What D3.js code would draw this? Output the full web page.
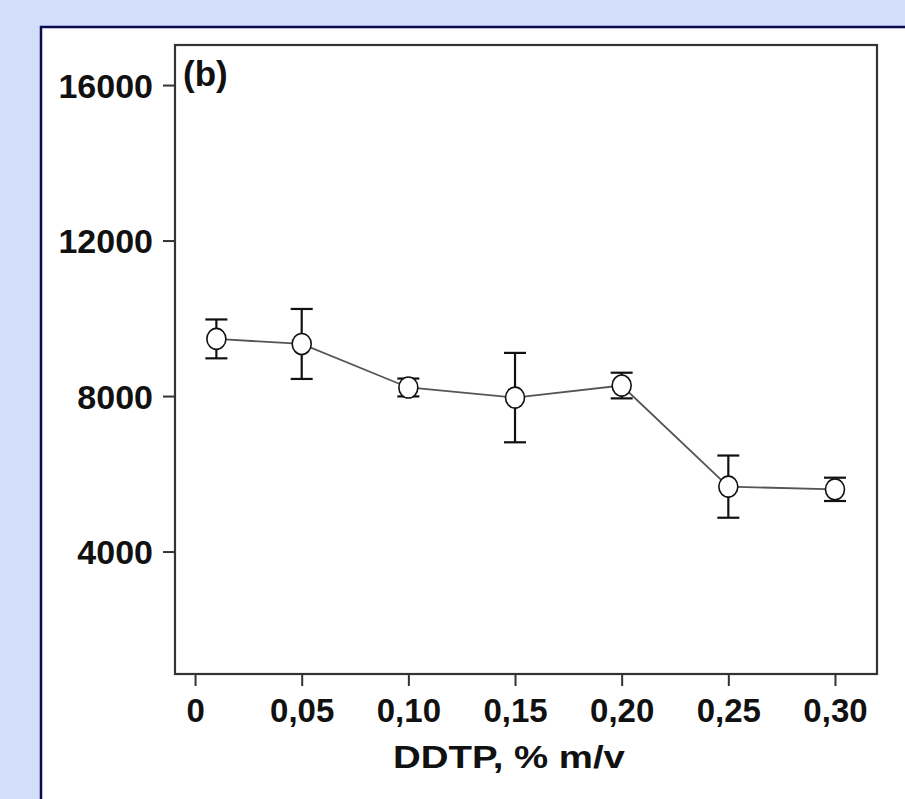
<!DOCTYPE html>
<html>
<head>
<meta charset="utf-8">
<script src="https://cdn.jsdelivr.net/npm/d3@7"></script>
<style>
  html, body { margin: 0; padding: 0; background: #d3defb; overflow: hidden; }
  svg { display: block; }
</style>
</head>
<body>
<svg id="chart" width="905" height="799"></svg>
<script>
// ---- data ----
const ddtp = [0.01, 0.05, 0.10, 0.15, 0.20, 0.25, 0.30];
const signal = [9470, 9340, 8220, 7960, 8270, 5670, 5600];
const errors = [500, 900, 230, 1150, 330, 800, 300];
const xTickValues = [0, 0.05, 0.10, 0.15, 0.20, 0.25, 0.30];
const xTickLabels = ["0", "0,05", "0,10", "0,15", "0,20", "0,25", "0,30"];
const yTickValues = [4000, 8000, 12000, 16000];
const yTickLabels = ["4000", "8000", "12000", "16000"];
const panelLabel = "(b)";
const xTitle = "DDTP, % m/v";

// ---- layout ----
const svg = d3.select("#chart");
const W = 905, H = 799;
const plot = { left: 175, top: 45, right: 877, bottom: 674 };
const font = "'Liberation Sans', Arial, sans-serif";

svg.append("rect").attr("x", 0).attr("y", 0).attr("width", W).attr("height", H).attr("fill", "#d3defb");
svg.append("rect").attr("x", 41).attr("y", 27).attr("width", W).attr("height", H)
  .attr("fill", "#ffffff").attr("stroke", "#0b0b4f").attr("stroke-width", 2.5);

const x = d3.scaleLinear().domain([-0.0094, 0.3197]).range([plot.left, plot.right]);
const y = d3.scaleLinear().domain([850, 17030]).range([plot.bottom, plot.top]);

// axes
const yAxis = d3.axisLeft(y).tickValues(yTickValues)
  .tickFormat((d, i) => yTickLabels[i]).tickSize(12).tickPadding(10);
const gy = svg.append("g").attr("transform", `translate(${plot.left},0)`).call(yAxis);
gy.select(".domain").remove();
gy.selectAll("line").attr("stroke", "#333").attr("stroke-width", 2);
gy.selectAll("text").attr("font-family", font).attr("font-weight", "bold")
  .attr("font-size", 34).attr("fill", "#111").attr("dy", "0.36em");

const xAxis = d3.axisBottom(x).tickValues(xTickValues)
  .tickFormat((d, i) => xTickLabels[i]).tickSize(12).tickPadding(13);
const gx = svg.append("g").attr("transform", `translate(0,${plot.bottom})`).call(xAxis);
gx.select(".domain").remove();
gx.selectAll("line").attr("stroke", "#333").attr("stroke-width", 2);
gx.selectAll("text").attr("font-family", font).attr("font-weight", "bold")
  .attr("font-size", 33).attr("fill", "#111");

// frame
svg.append("rect").attr("x", plot.left).attr("y", plot.top)
  .attr("width", plot.right - plot.left).attr("height", plot.bottom - plot.top)
  .attr("fill", "none").attr("stroke", "#333").attr("stroke-width", 2.2);

// titles
svg.append("text").attr("x", 183).attr("y", 86).text(panelLabel)
  .attr("font-family", font).attr("font-weight", "bold").attr("font-size", 35).attr("fill", "#111");
svg.append("text")
  .attr("transform", "translate(509,768) scale(1.2,1)")
  .attr("text-anchor", "middle").text(xTitle)
  .attr("font-family", font).attr("font-weight", "bold").attr("font-size", 32).attr("fill", "#111");

const data = ddtp.map((d, i) => ({ x: d, y: signal[i], e: errors[i] }));

// error bars
const eb = svg.append("g").attr("stroke", "#111").attr("stroke-width", 2.2);
const cap = 11;
data.forEach(d => {
  const cx = x(d.x), t = y(d.y + d.e), b = y(d.y - d.e);
  eb.append("line").attr("x1", cx).attr("x2", cx).attr("y1", t).attr("y2", b);
  eb.append("line").attr("x1", cx - cap).attr("x2", cx + cap).attr("y1", t).attr("y2", t);
  eb.append("line").attr("x1", cx - cap).attr("x2", cx + cap).attr("y1", b).attr("y2", b);
});

// connecting line
svg.append("path").datum(data)
  .attr("d", d3.line().x(d => x(d.x)).y(d => y(d.y)))
  .attr("fill", "none").attr("stroke", "#555").attr("stroke-width", 1.8);

// markers
svg.append("g").selectAll("ellipse").data(data).join("ellipse")
  .attr("cx", d => x(d.x)).attr("cy", d => y(d.y))
  .attr("rx", 9.5).attr("ry", 10.5)
  .attr("fill", "#fff").attr("stroke", "#111").attr("stroke-width", 1.6);
</script>
</body>
</html>
